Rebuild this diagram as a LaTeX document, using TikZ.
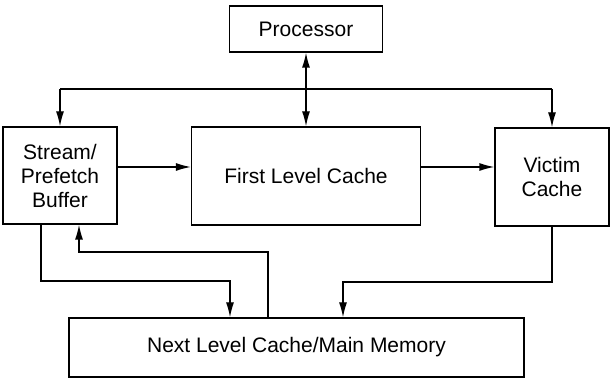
\documentclass[tikz,border=0pt]{standalone}
\usepackage{fontspec}
\setmainfont{Liberation Sans}
\usetikzlibrary{arrows.meta}
\begin{document}
\begin{tikzpicture}[x=1pt,y=-1pt,
  box/.style={draw,line width=1.3pt,inner sep=0pt,align=center,
    font=\fontsize{21}{24}\selectfont},
  conn/.style={line width=1.3pt},
  arr/.style={conn,-{Latex[length=15pt,width=8pt]}},
  darr/.style={conn,{Latex[length=15pt,width=8pt]}-{Latex[length=15pt,width=8pt]}}]
\useasboundingbox (0,0) rectangle (611,379);
\node[box,minimum width=153pt,minimum height=46pt] (proc) at (306,29) {Processor};
\node[box,minimum width=114pt,minimum height=97pt] (stream) at (60,175.5) {Stream/\\Prefetch\\Buffer};
\node[box,minimum width=229pt,minimum height=98pt] (flc) at (306,176) {First Level Cache};
\node[box,minimum width=114pt,minimum height=98pt] (victim) at (552,177) {Victim\\Cache};
\node[box,minimum width=455pt,minimum height=59pt] (nlc) at (296.5,347.5) {Next Level Cache/Main Memory};
% bus
\coordinate (busL) at (60,89);
\coordinate (busR) at (552,89);
\draw[darr] (proc.south) -- (flc.north);
\draw[conn] (busL) -- (busR);
\draw[arr] (busL) -- (stream.north);
\draw[arr] (busR) -- (victim.north);
% horizontal flows
\coordinate (row) at (0,167);
\draw[arr] (stream.east |- row) -- (flc.west |- row);
\draw[arr] (flc.east |- row) -- (victim.west |- row);
% lower connections
\coordinate (a1) at (41,281);
\coordinate (a2) at (230,281);
\draw[arr] (stream.south -| a1) -- (a1) -- (a2) -- (nlc.north -| a2);
\coordinate (b1) at (268,252);
\coordinate (b2) at (79,252);
\draw[arr] (nlc.north -| b1) -- (b1) -- (b2) -- (stream.south -| b2);
\coordinate (c1) at (552,282);
\coordinate (c2) at (343,282);
\draw[arr] (victim.south -| c1) -- (c1) -- (c2) -- (nlc.north -| c2);
\end{tikzpicture}
\end{document}
